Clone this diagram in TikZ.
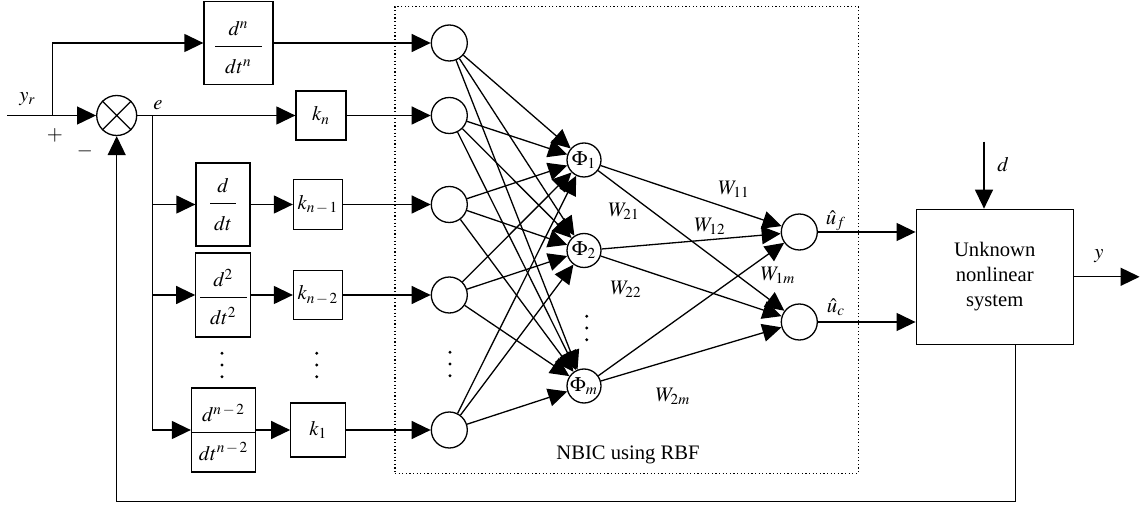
\documentclass[tikz,border=0pt]{standalone}
\usepackage{mathptmx}
\usepackage{fontspec}
\setmainfont{Liberation Serif}
\usetikzlibrary{arrows.meta,calc}
\begin{document}
\begin{tikzpicture}[x=0.5pt,y=-0.5pt,line width=0.65pt,
  every node/.style={font=\fontsize{10.3}{12.5}\selectfont},
  arr/.style={-{Triangle[length=9.5pt,width=9pt]}},
  blk/.style={draw,rectangle,inner sep=0pt},
  neu/.style={draw,circle,inner sep=0pt,minimum size=18pt},
  lbl/.style={inner sep=0pt},
  fline/.style={line width=0.5pt},
  dotc/.style={fill=black}]
\useasboundingbox (0,0) rectangle (1140,507);
% dotted NBIC frame
\node[draw,line width=0.6pt,dash pattern=on 0.6pt off 1.2pt,minimum width=231.65pt,minimum height=233.3pt,inner sep=0pt] (nb) at (626.65,240) {};
\node[lbl,anchor=base] (nbl) at (628,459) {NBIC using RBF};
% summer
\node[neu,minimum size=20pt] (sum) at (116.7,115.5) {};
\draw (sum.north east) -- (sum.south west) (sum.north west) -- (sum.south east);
% blocks
\node[blk,minimum width=34.5pt,minimum height=41.5pt] (dn) at (238.5,43) {};
\node[lbl,anchor=base] (dnN) at (238.5,35.5) {$d^n$};
\node[lbl,anchor=base] (dnD) at (238.5,73.5) {$dt^n$};
\draw[fline] (215,46.5) -- (262,46.5);
\node[blk,minimum width=25pt,minimum height=24.5pt] (kn) at (321,115.5) {$k_n$};
\node[blk,minimum width=27pt,minimum height=41.5pt] (d1) at (223,204.5) {};
\node[lbl,anchor=base] (d1N) at (223,192.5) {$d$};
\node[lbl,anchor=base] (d1D) at (223,230.5) {$dt$};
\draw[fline] (210,203.5) -- (236,203.5);
\node[blk,minimum width=24.5pt,minimum height=25pt] (kn1) at (318,204.5) {$k_{n\,-\,1}$};
\node[blk,minimum width=27.5pt,minimum height=42pt] (d2) at (223.3,295) {};
\node[lbl,anchor=base] (d2N) at (223.3,287) {$d^2$};
\node[lbl,anchor=base] (d2D) at (223.3,325) {$dt^2$};
\draw[fline] (200,298) -- (246.7,298);
\node[blk,minimum width=24.5pt,minimum height=24.5pt] (kn2) at (318,295) {$k_{n\,-\,2}$};
\node[blk,minimum width=32pt,minimum height=42pt] (dn2) at (223.5,430) {};
\node[lbl,anchor=base] (dn2N) at (223.5,422) {$d^{n\,-\,2}$};
\node[lbl,anchor=base] (dn2D) at (223.5,460) {$dt^{n\,-\,2}$};
\draw[fline] (dn2.west |- 0,433) -- (dn2.east |- 0,433);
\node[blk,minimum width=27.5pt,minimum height=27pt] (k1) at (318.3,430) {$k_1$};
% neurons
\node[neu] (in1) at (449.3,43) {};
\node[neu] (in2) at (449.3,115.5) {};
\node[neu] (in3) at (449.3,204.5) {};
\node[neu] (in4) at (449.3,295) {};
\node[neu] (in5) at (449.3,430) {};
\node[neu,minimum size=17pt] (h1) at (584,160) {$\Phi_1$};
\node[neu,minimum size=17pt] (h2) at (584,250.5) {$\Phi_2$};
\node[neu,minimum size=17pt] (hm) at (584,386) {$\Phi_m$};
\node[neu] (o1) at (799.3,232) {};
\node[neu] (o2) at (799.3,322) {};
% system
\node[blk,minimum width=78.5pt,minimum height=67.5pt,align=center] (sys) at (994.7,276.8) {Unknown\\nonlinear\\system};
% input side
\coordinate (yin) at (7,115.5);
\coordinate (br1) at (52.3,115.5);
\coordinate (br2) at (152.3,115.5);
\draw[arr] (yin) -- (sum.west);
\draw[arr] (br1) |- (dn.west);
\draw[arr] (sum.east) -- (kn.west);
\draw (br2) -- (br2 |- dn2.west);
\draw[arr] (br2 |- d1.west) -- (d1.west);
\draw[arr] (br2 |- d2.west) -- (d2.west);
\draw[arr] (br2 |- dn2.west) -- (dn2.west);
\draw[arr] (d1.east) -- (kn1.west);
\draw[arr] (d2.east) -- (kn2.west);
\draw[arr] (dn2.east) -- (k1.west);
\draw[arr] (dn.east) -- (in1.west);
\draw[arr] (kn.east) -- (in2.west);
\draw[arr] (kn1.east) -- (in3.west);
\draw[arr] (kn2.east) -- (in4.west);
\draw[arr] (k1.east) -- (in5.west);
% network
\foreach \i in {in1,in2,in3,in4,in5}
  \foreach \j in {h1,h2,hm}
    \draw[arr] (\i) -- (\j);
\foreach \j in {h1,h2,hm}
  \foreach \k in {o1,o2}
    \draw[arr] (\j) -- (\k);
\draw[arr] (o1.east) -- (o1.east -| sys.west);
\draw[arr] (o2.east) -- (o2.east -| sys.west);
% plant
\coordinate (din) at (984,141.7);
\draw[arr] (din) -- (din |- sys.north);
\coordinate (yout) at (1139.6,276.8);
\draw[arr] (sys.east) -- (yout);
\coordinate (fbc) at (116.7,501.7);
\draw[arr] ([xshift=10.5pt]sys.south) |- (fbc) -- (sum.south);
% labels
\node[lbl] (lyr) at (27.5,99) {$y_r$};
\node[lbl] (lp) at (55,135) {$+$};
\node[lbl] (lm) at (85,151) {$-$};
\node[lbl] (le) at (158,105) {$e$};
\node[lbl] (lw11) at (734,189) {$W_{11}$};
\node[lbl] (lw21) at (624,211) {$W_{21}$};
\node[lbl] (lw12) at (710,226) {$W_{12}$};
\node[lbl] (lw22) at (626,289) {$W_{22}$};
\node[lbl] (lw1m) at (778,275) {$W_{1m}$};
\node[lbl] (lw2m) at (673,396) {$W_{2m}$};
\node[lbl] (luf) at (836,221) {$\hat{u}_f$};
\node[lbl] (luc) at (836,307) {$\hat{u}_c$};
\node[lbl] (ld) at (1003,165) {$d$};
\node[lbl] (ly) at (1099,256) {$y$};
% vertical dots
\foreach \x/\y in {222/365,316.7/365,450/364,586.7/328}
  \fill (\x,\y-11.7) circle (0.8pt) (\x,\y) circle (0.8pt) (\x,\y+11.7) circle (0.8pt);
\end{tikzpicture}
\end{document}
